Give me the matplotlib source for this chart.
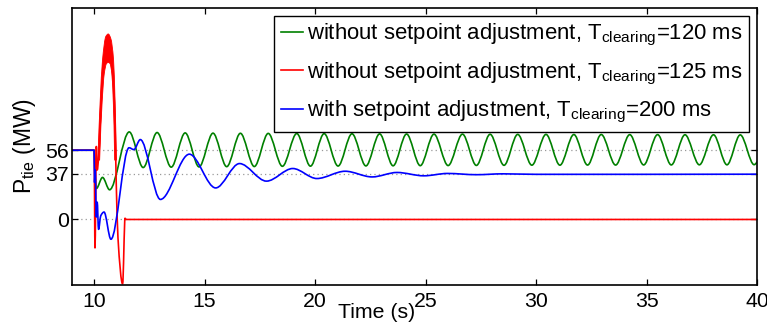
import numpy as np
import matplotlib
matplotlib.use("Agg")
import matplotlib.pyplot as plt
from matplotlib.path import Path
from matplotlib.patches import PathPatch
from matplotlib.lines import Line2D

# tie-line power after the fault, knots at the turning points of each trace
t_green = [9.0, 10.0, 10.03, 10.1, 10.38, 10.7,
           11.59, 12.22, 12.85, 13.49, 14.12, 14.75, 15.38, 16.0, 16.62, 17.25,
           17.88, 18.52, 19.17, 19.79, 20.41, 21.04, 21.67, 22.3, 22.92, 23.53,
           24.14, 24.76, 25.38, 26.02, 26.67, 27.3, 27.92, 28.55, 29.17, 29.81,
           30.45, 31.08, 31.71, 32.33, 32.95, 33.6, 34.24, 34.87, 35.5, 36.12,
           36.74, 37.39, 38.03, 38.64, 39.24, 39.87, 40.0]
p_green = [56, 56, 40, 25, 34, 24,
           70.8, 42.0, 70.3, 42.3, 70.0, 42.5, 69.8, 42.7, 69.7, 42.8,
           69.6, 43.0, 69.5, 43.1, 69.4, 43.2, 69.3, 43.3, 69.2, 43.4,
           69.1, 43.5, 69.0, 43.6, 69.0, 43.7, 68.9, 43.8, 68.8, 43.9,
           68.8, 43.9, 68.7, 44.0, 68.7, 44.0, 68.6, 44.1, 68.6, 44.1,
           68.5, 44.2, 68.5, 44.2, 68.4, 44.3, 46.5]

t_red = [9.0, 10.0, 10.04, 10.1, 10.14, 10.21, 10.33, 10.45, 10.64, 10.8,
         10.92, 11.0, 11.08, 11.29, 11.4, 11.44, 40.0]
p_red = [56, 56, -23, 59, 40, 52, 100, 130, 140, 125,
         95, 30, -15, -52, 1, 0, 0]

# envelope of the fast oscillation on the red trace
t_red_out = [10.17, 10.27, 10.38, 10.53, 10.64, 10.76, 10.88, 10.95, 11.01]
p_red_out = [48, 94, 129, 148, 150, 146, 129, 94, 48]
t_red_in = [10.25, 10.36, 10.46, 10.56, 10.64, 10.72, 10.8, 10.87, 10.93]
p_red_in = [48, 94, 118, 126, 127, 126, 118, 94, 48]

t_blue = [9.0, 10.0, 10.02, 10.05, 10.1, 10.14, 10.2, 10.3, 10.45, 10.76,
          11.58, 11.8, 12.09, 13.0, 14.31, 15.5, 16.58, 17.8, 18.99, 20.08,
          21.36, 22.58, 23.71, 24.92, 25.99, 27.3, 28.5, 30.0, 40.0]
p_blue = [56, 56, 30, 40, 2, 14, -8, 3, 6, -16,
          58, 56.5, 64.6, 16.2, 52.8, 25.5, 45.2, 31, 41.2, 33.1,
          39, 34.4, 38, 35.3, 37.2, 36.2, 36.9, 36.5, 36.6]

labels = [r"without setpoint adjustment, T$_{\mathrm{clearing}}$=120 ms",
          r"without setpoint adjustment, T$_{\mathrm{clearing}}$=125 ms",
          r"with setpoint adjustment, T$_{\mathrm{clearing}}$=200 ms"]
yticks = [0, 37, 56]
xticks = [10, 15, 20, 25, 30, 35, 40]


def end_slope(h0, h1, d0, d1):
    m = ((2 * h0 + h1) * d0 - h0 * d1) / (h0 + h1)
    if np.sign(m) != np.sign(d0):
        return 0.0
    if np.sign(d0) != np.sign(d1) and abs(m) > abs(3 * d0):
        return 3 * d0
    return m


def smooth_verts(t, v):
    # monotone cubic through the knots, written as bezier segments
    t = np.asarray(t, float)
    v = np.asarray(v, float)
    h = np.diff(t)
    d = np.diff(v) / h
    m = np.zeros_like(v)
    for k in range(1, len(t) - 1):
        if d[k - 1] * d[k] > 0:
            w1 = 2 * h[k] + h[k - 1]
            w2 = h[k] + 2 * h[k - 1]
            m[k] = (w1 + w2) / (w1 / d[k - 1] + w2 / d[k])
    m[0] = end_slope(h[0], h[1], d[0], d[1])
    m[-1] = end_slope(h[-1], h[-2], d[-1], d[-2])
    verts = [(t[0], v[0])]
    for k in range(len(h)):
        verts += [(t[k] + h[k] / 3, v[k] + m[k] * h[k] / 3),
                  (t[k + 1] - h[k] / 3, v[k + 1] - m[k + 1] * h[k] / 3),
                  (t[k + 1], v[k + 1])]
    return verts


def curve(t, v, color, lw=1.2, z=2):
    verts = smooth_verts(t, v)
    codes = [Path.MOVETO] + [Path.CURVE4] * (len(verts) - 1)
    return PathPatch(Path(verts, codes), fill=False, edgecolor=color, lw=lw,
                     joinstyle="round", capstyle="round", zorder=z)


def band(t1, v1, t2, v2, color, z=2):
    outer = smooth_verts(t1, v1)
    inner = smooth_verts(t2, v2)[::-1]
    verts = outer + inner + [outer[0]]
    codes = ([Path.MOVETO] + [Path.CURVE4] * (len(outer) - 1) +
             [Path.LINETO] + [Path.CURVE4] * (len(inner) - 1) + [Path.CLOSEPOLY])
    return PathPatch(Path(verts, codes), facecolor=color, edgecolor=color,
                     lw=0.6, zorder=z)


plt.rcParams.update({"font.family": "Liberation Sans", "font.size": 15.3,
                     "mathtext.fontset": "custom",
                     "mathtext.rm": "Liberation Sans",
                     "mathtext.it": "Liberation Sans:italic"})

fig = plt.figure(figsize=(7.67, 3.29), dpi=100)
ax = fig.add_axes([0.0939, 0.1337, 0.8931, 0.842])

green, red, blue = "#008000", "#ff0000", "#0000ff"
ax.add_patch(curve(t_green, p_green, green, z=2))
ax.add_patch(band(t_red_out, p_red_out, t_red_in, p_red_in, red, z=2.1))
ax.add_patch(curve(t_red, p_red, red, z=2.1))
ax.add_patch(curve(t_blue, p_blue, blue, z=2.2))

ax.set_xlim(9, 40)
ax.set_ylim(-53, 171)
ax.set_xticks(xticks)
ax.set_yticks(yticks)
ax.yaxis.grid(True, linestyle=(0, (1, 2.5)), color="#999999", lw=0.9)
ax.set_axisbelow(True)
ax.tick_params(direction="in", top=True, right=True, length=4, width=0.9)
ax.tick_params(axis="x", pad=5)
ax.tick_params(axis="y", pad=2.5)
for s in ax.spines.values():
    s.set_linewidth(1.2)

ax.set_xlabel("Time (s)")
ax.xaxis.set_label_coords(0.444, -0.066)
ax.set_ylabel(r"P$_{\mathrm{tie}}$ (MW)", fontsize=16.5)
ax.yaxis.set_label_coords(-0.05, 0.5)

handles = [Line2D([], [], color=c, lw=1.2) for c in (green, red, blue)]
ax.legend(handles, labels, loc="upper right", bbox_to_anchor=(0.989, 0.972),
          fancybox=False, framealpha=1, edgecolor="black", handlelength=1.0,
          handletextpad=0.2, borderaxespad=0, labelspacing=0.55,
          borderpad=0.3, fontsize=15.9)

fig.savefig("out.png", dpi=100)
